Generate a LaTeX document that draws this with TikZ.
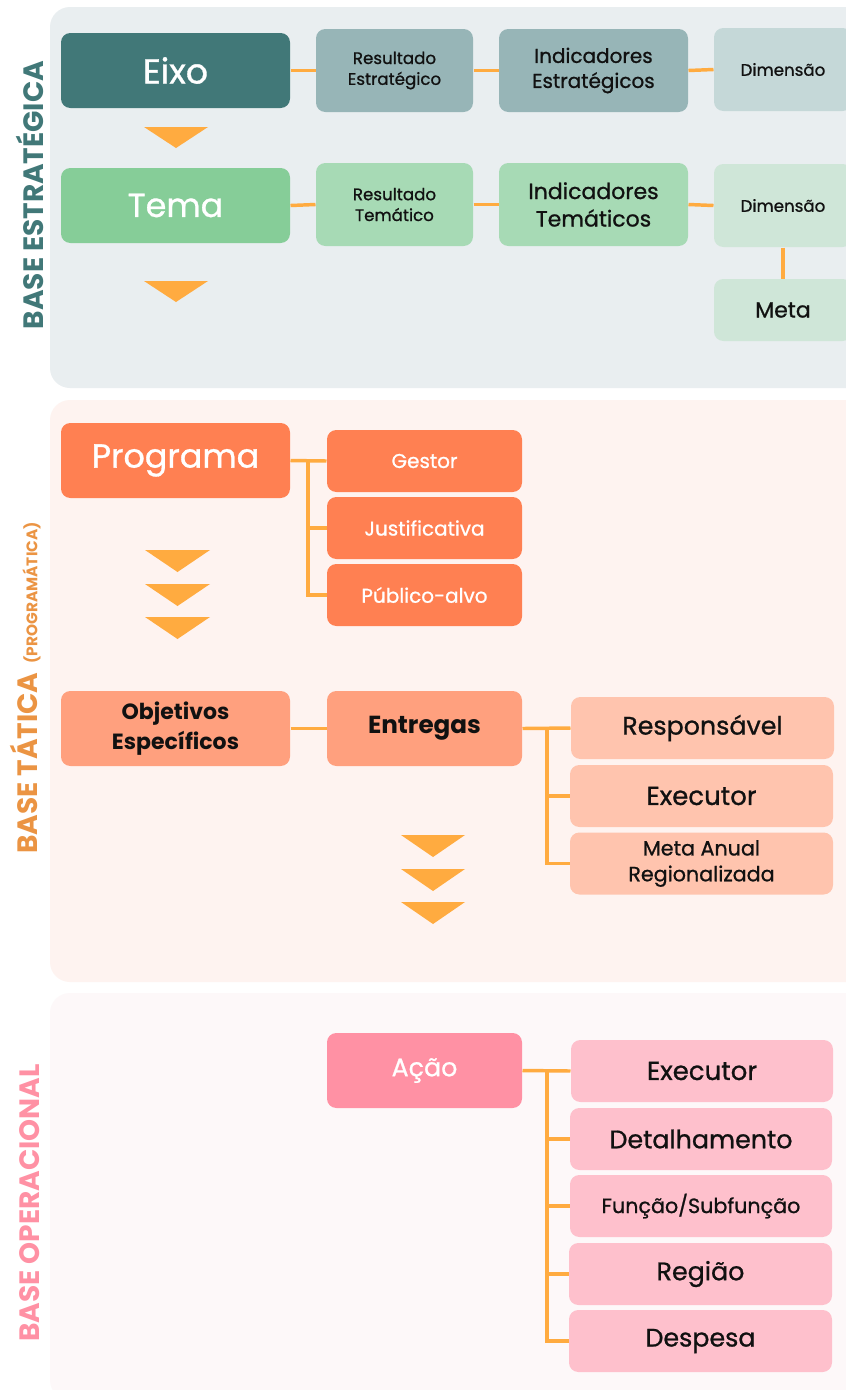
\documentclass[tikz,border=0pt]{standalone}
\usepackage{fontspec}
\setmainfont{Poppins}
\newfontfamily\medfont{Poppins}[FakeBold=0.9]

\definecolor{panelEst}{HTML}{E9EEF0}
\definecolor{panelTat}{HTML}{FEF3F0}
\definecolor{panelOp}{HTML}{FDF8F9}
\definecolor{eixoC}{HTML}{417878}
\definecolor{estC}{HTML}{97B5B7}
\definecolor{dimEstC}{HTML}{C5D8D8}
\definecolor{temaC}{HTML}{86CD98}
\definecolor{temC}{HTML}{A7DAB5}
\definecolor{dimTemC}{HTML}{CFE6D8}
\definecolor{progC}{HTML}{FF8052}
\definecolor{objC}{HTML}{FFA07E}
\definecolor{entC}{HTML}{FFC4AE}
\definecolor{acaoC}{HTML}{FF91A4}
\definecolor{acaoItC}{HTML}{FEC0CC}
\definecolor{linkC}{HTML}{FFAB40}
\definecolor{tatC}{HTML}{EB9443}
\definecolor{txtC}{HTML}{111111}

\tikzset{every picture/.style={line width=0.75pt}}
\tikzset{
  box/.style={rounded corners=7pt, inner sep=0pt, align=center, text=txtC},
  sz/.style 2 args={minimum width=#1*0.75pt, minimum height=#2*0.75pt},
  fs/.style={font=\medfont\fontsize{#1}{\dimexpr#1pt*5/4\relax}\selectfont},
  link/.style={draw=linkC, line width=2.6pt},
  seta/.style={fill=linkC},
  panel/.style={rounded corners=15pt},
  vlabel/.style={rotate=90, font=\bfseries\fontsize{21}{24}\selectfont, inner sep=0pt}
}

\begin{document}
\begin{tikzpicture}[x=0.75pt,y=0.75pt,yscale=-1,xscale=1]
\clip (0,0) rectangle (846,1390);
\fill[white] (0,0) rectangle (846,1390);

% Panels
\fill[panelEst, panel] (50,7) rectangle (880,388);
\fill[panelTat, panel] (50,400) rectangle (880,982);
\fill[panelOp, panel] (50,993) rectangle (880,1400);

% Side labels
\node[vlabel, text=eixoC] (lblEst) at (30,195) {BASE ESTRATÉGICA};
\node[vlabel, text=tatC, anchor=south] (lblTat) at (41,688) {BASE TÁTICA {\fontsize{11.5}{13}\selectfont\ (PROGRAMÁTICA)}};
\node[vlabel, text=acaoC] (lblOp) at (30,1203) {BASE OPERACIONAL};

% Text Node
\node[box, sz={229}{75}, fill=eixoC, text=white, fs=26] (eixo) at (175.5,70.5) {Eixo};
\node[box, sz={157}{83}, fill=estC, fs=12.5] (resEst) at (394.5,70.5) {Resultado\\Estratégico};
\node[box, sz={189}{83}, fill=estC, fs=15] (indEst) at (593.5,70.5) {Indicadores\\Estratégicos};
\node[box, sz={138}{83}, fill=dimEstC, fs=12.5] (dimEst) at (783,69.5) {Dimensão};
% Text Node
\node[box, sz={229}{75}, fill=temaC, text=white, fs=25] (tema) at (175.5,205.5) {Tema};
\node[box, sz={157}{83}, fill=temC, fs=12.5] (resTem) at (394.5,204.5) {Resultado\\Temático};
\node[box, sz={189}{83}, fill=temC, fs=16.5] (indTem) at (593.5,204.5) {Indicadores\\Temáticos};
\node[box, sz={138}{83}, fill=dimTemC, fs=12.5] (dimTem) at (783,205.5) {Dimensão};
\node[box, sz={138}{62}, fill=dimTemC, fs=16.5] (meta) at (783,310) {Meta};

% Connection
\draw[link] (eixo.east) -- (resEst.west);
\draw[link] (resEst.east) -- (indEst.west);
\draw[link] (indEst.east) -- (dimEst.west);
\draw[link] (tema.east) -- (resTem.west);
\draw[link] (resTem.east) -- (indTem.west);
\draw[link] (indTem.east) -- (dimTem.west);
\draw[link] (dimTem.south) -- (meta.north);

% Text Node
\node[box, sz={229}{75}, fill=progC, text=white, fs=25] (prog) at (175.5,460.5) {Programa};
\node[box, sz={195}{62}, fill=progC, text=white, fs=15] (gestor) at (424.5,461) {Gestor};
\node[box, sz={195}{62}, fill=progC, text=white, fs=15] (justif) at (424.5,528) {Justificativa};
\node[box, sz={195}{62}, fill=progC, text=white, fs=15] (publico) at (424.5,595) {Público-alvo};
% Text Node
\node[box, sz={229}{75}, fill=objC, font=\bfseries\fontsize{16.5}{22}\selectfont] (obj) at (175.5,728.5) {Objetivos\\Específicos};
\node[box, sz={195}{75}, fill=objC, font=\bfseries\fontsize{18.5}{22}\selectfont] (entregas) at (424.5,728.5) {Entregas};
\node[box, sz={263}{62}, fill=entC, fs=19] (resp) at (702.5,728) {Responsável};
\node[box, sz={263}{62}, fill=entC, fs=19.5] (execEnt) at (701.5,796) {Executor};
\node[box, sz={263}{62}, fill=entC, fs=15.5] (metaAnual) at (701.5,863.5) {Meta Anual\\Regionalizada};

% Connection
\coordinate (jProg) at (308,461);
\draw[link] (prog.east) -- (gestor.west);
\draw[link] (jProg) |- (justif.west);
\draw[link] (jProg) |- (publico.west);
\draw[link] (obj.east) -- (entregas.west);
\coordinate (jEnt) at (547,728.5);
\draw[link] (entregas.east) -- (resp.west);
\draw[link] (jEnt) |- (execEnt.west);
\draw[link] (jEnt) |- (metaAnual.west);

% Text Node
\node[box, sz={195}{75}, fill=acaoC, text=white, fs=19] (acao) at (424.5,1070.5) {Ação};
\node[box, sz={262}{62}, fill=acaoItC, fs=19.5] (execAcao) at (702,1071) {Executor};
\node[box, sz={262}{62}, fill=acaoItC, fs=19] (detalhe) at (701,1139) {Detalhamento};
\node[box, sz={262}{62}, fill=acaoItC, fs=15.5] (funcao) at (701,1206) {Função/Subfunção};
\node[box, sz={263}{62}, fill=acaoItC, fs=19] (regiao) at (700.5,1274) {Região};
\node[box, sz={263}{62}, fill=acaoItC, fs=19] (despesa) at (700.5,1341) {Despesa};

% Connection
\coordinate (jAcao) at (547,1071);
\draw[link] (acao.east) -- (execAcao.west);
\foreach \alvo in {detalhe, funcao, regiao, despesa}
  \draw[link] (jAcao) |- (\alvo.west);

% Arrows down
\fill[seta] (144,127) -- (208,127) -- (176,148) -- cycle;
\fill[seta] (144,281) -- (208,281) -- (176,302) -- cycle;
\foreach \y in {550,584,617}
  \fill[seta] (145,\y) -- (210,\y) -- (177.5,\y+22) -- cycle;
\foreach \y in {835,869,902}
  \fill[seta] (401,\y) -- (465,\y) -- (433,\y+22) -- cycle;

\end{tikzpicture}
\end{document}
